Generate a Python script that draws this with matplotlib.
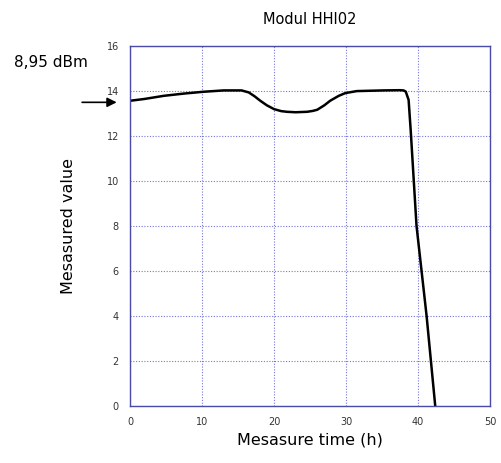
import matplotlib.pyplot as plt

time_h = [0.0, 2.0, 4.7, 7.5, 10.2, 13.0, 15.5, 16.5, 17.3, 18.1, 19.0, 20.0, 21.0,
          21.8, 23.0, 24.6, 25.4, 26.0, 27.0, 27.8, 29.0, 29.9, 31.5, 35.2, 37.5,
          38.0, 38.3, 38.7, 39.0, 39.4, 39.8, 40.5, 41.2, 41.8, 42.4]
value = [13.56, 13.64, 13.78, 13.88, 13.96, 14.02, 14.02, 13.93, 13.76, 13.56, 13.36,
         13.19, 13.10, 13.07, 13.05, 13.07, 13.11, 13.16, 13.36, 13.56, 13.78, 13.90,
         13.99, 14.02, 14.03, 14.02, 13.97, 13.6, 12.2, 10.1, 8.0, 6.0, 4.0, 2.0, 0.0]

x_ticks = [0, 10, 20, 30, 40, 50]
y_ticks = [0, 2, 4, 6, 8, 10, 12, 14, 16]

axis_color = "#4a4aa8"
grid_color = "#7676dc"

fig = plt.figure(figsize=(5.02, 4.63), dpi=100)
ax = fig.add_axes([0.259, 0.123, 0.717, 0.778])

ax.plot(time_h, value, color="black", linewidth=1.8)

ax.set_xlim(0, 50)
ax.set_ylim(0, 16)
ax.set_xticks(x_ticks)
ax.set_yticks(y_ticks)
ax.tick_params(length=0, labelsize=7, labelcolor="#333333", pad=8)
ax.grid(True, color=grid_color, linestyle=(0, (1, 1.5)), linewidth=0.8)
for spine in ax.spines.values():
    spine.set_color(axis_color)
    spine.set_linewidth(1.0)

fig.text(0.618, 0.958, "Modul HHI02", ha="center", va="center", fontsize=10.5)
ax.set_xlabel("Mesasure time (h)", fontsize=11.5, labelpad=4)
ax.set_ylabel("Mesasured value", fontsize=11.5, labelpad=22)

# Подпись со стрелкой слева от оси
ax.annotate("", xy=(0.238, 0.779), xytext=(0.158, 0.779),
            xycoords="figure fraction", textcoords="figure fraction",
            arrowprops=dict(arrowstyle="-|>", color="black", lw=1.2,
                            mutation_scale=14))
fig.text(0.028, 0.865, "8,95 dBm", ha="left", va="center", fontsize=11)

fig.savefig("out.png", dpi=100)
